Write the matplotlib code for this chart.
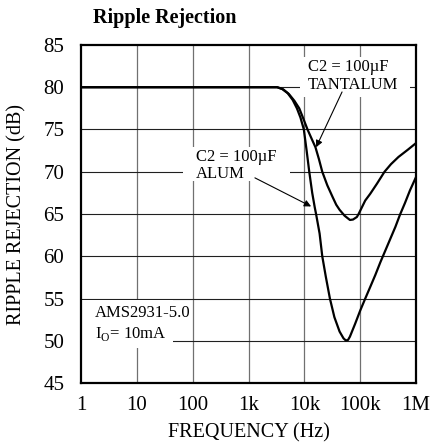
import numpy as np
import matplotlib
matplotlib.use("Agg")
import matplotlib.pyplot as plt
from matplotlib.patches import Rectangle

plt.rcParams['font.family'] = ['Liberation Serif', 'DejaVu Serif']
plt.rcParams['mathtext.fontset'] = 'custom'
plt.rcParams['mathtext.rm'] = 'Liberation Serif'

# data (log10 of frequency in Hz, ripple rejection in dB)
tant_logf = [0.0, 3.3, 3.513, 3.62, 3.722, 3.82, 3.908, 3.98, 4.056, 4.13, 4.198,
             4.26, 4.32, 4.41, 4.506, 4.57, 4.63, 4.72, 4.815, 4.87, 4.939, 4.97,
             5.089, 5.179, 5.30, 5.434, 5.55, 5.684, 5.85, 6.0]
tant_db = [80, 80, 80, 79.75, 79.2, 78.4, 77.5, 76.3, 75, 73.9, 72.9,
           71.5, 70, 68.4, 67, 66.1, 65.5, 64.8, 64.3, 64.35, 64.65, 65,
           66.6, 67.4, 68.6, 70, 70.9, 71.75, 72.6, 73.4]

alum_logf = [0.0, 3.3, 3.513, 3.60, 3.70, 3.79, 3.866, 3.93, 3.99, 4.04, 4.087,
             4.14, 4.185, 4.209, 4.272, 4.32, 4.383, 4.457, 4.537, 4.63, 4.70,
             4.741, 4.78, 4.815, 4.907, 5.0, 5.089, 5.18, 5.27, 5.36, 5.45, 5.54,
             5.63, 5.71, 5.80, 5.89, 6.0]
alum_db = [80, 80, 80, 79.8, 79.3, 78.5, 77.5, 76.4, 75, 72.5, 70,
           67.5, 65.8, 65, 62.7, 60, 57.6, 55, 52.8, 51.1, 50.3,
           50.05, 50.1, 50.5, 52.0, 53.6, 55.0, 56.4, 57.8, 59.3, 60.7, 62.1,
           63.5, 64.9, 66.3, 67.8, 69.4]

x_ticks = [1, 10, 100, 1e3, 1e4, 1e5, 1e6]
x_labels = ['1', '10', '100', '1k', '10k', '100k', '1M']
y_ticks = [45, 50, 55, 60, 65, 70, 75, 80, 85]

fig = plt.figure(figsize=(4.33, 4.45), dpi=100)
ax = fig.add_axes([0.187, 0.139, 0.774, 0.760])

ax.set_xscale('log')
ax.set_xlim(1, 1e6)
ax.set_ylim(45, 85)

# grid
for v in x_ticks[1:-1]:
    ax.axvline(v, color='#707070', lw=0.9, zorder=1)
for h in y_ticks[1:-1]:
    ax.axhline(h, color='#202020', lw=0.8, zorder=1)

# white patches behind the notes (they hide the grid)
for x0, y0, w, h in [(0.654, 0.846, 0.328, 0.118),
                     (0.304, 0.598, 0.320, 0.100),
                     (0.0, 0.104, 0.275, 0.142)]:
    ax.add_patch(Rectangle((x0, y0), w, h, transform=ax.transAxes,
                           facecolor='white', edgecolor='none', zorder=2))

ax.plot(10 ** np.array(tant_logf), tant_db, color='black', lw=1.6, zorder=3)
ax.plot(10 ** np.array(alum_logf), alum_db, color='black', lw=1.6, zorder=3)

ax.set_xticks(x_ticks)
ax.set_xticklabels(x_labels)
ax.minorticks_off()
ax.set_yticks(y_ticks)
ax.tick_params(length=0, labelsize=15, pad=9)
ax.tick_params(axis='y', pad=12)

for s in ax.spines.values():
    s.set_linewidth(1.6)
    s.set_zorder(5)

ax.set_xlabel('FREQUENCY (Hz)', fontsize=14.5, labelpad=6)
ax.set_ylabel('RIPPLE REJECTION (dB)', fontsize=14.5, labelpad=12)

ax.text(0.678, 0.957, 'C2 = 100µF\nTANTALUM', transform=ax.transAxes,
        fontsize=12, va='top', ha='left', linespacing=1.1, zorder=4)
ax.text(0.343, 0.693, 'C2 = 100µF\nALUM', transform=ax.transAxes,
        fontsize=12, va='top', ha='left', linespacing=1.1, zorder=4)
ax.text(0.042, 0.232, 'AMS2931-5.0\nI$_\\mathrm{O}$= 10mA', transform=ax.transAxes,
        fontsize=12, va='top', ha='left', linespacing=1.35, zorder=4)

arrow = dict(arrowstyle='-|>', color='black', lw=0.8, mutation_scale=10,
             shrinkA=0, shrinkB=0)
ax.annotate('', xy=(10 ** 4.21, 72.9), xytext=(0.779, 0.861),
            textcoords='axes fraction', arrowprops=arrow, zorder=4)
ax.annotate('', xy=(10 ** 4.12, 65.9), xytext=(0.519, 0.607),
            textcoords='axes fraction', arrowprops=arrow, zorder=4)

fig.text(93 / 433, 1 - 18 / 445, 'Ripple Rejection', fontsize=14.5,
         fontweight='bold', va='center', ha='left')

fig.savefig('out.png', dpi=100)
